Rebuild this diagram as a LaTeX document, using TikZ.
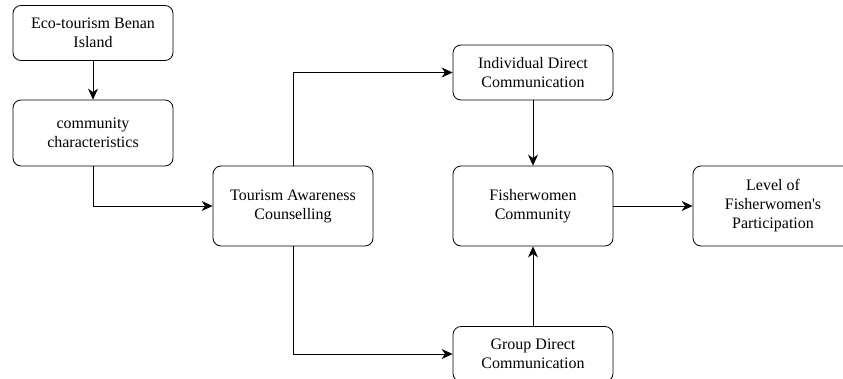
\documentclass[tikz,border=0pt]{standalone}
\usepackage{fontspec}
\setmainfont{Liberation Serif}
\usetikzlibrary{arrows.meta}

\begin{document}
\begin{tikzpicture}[x=1pt, y=-1pt,
        box/.style={draw, thick, rounded corners=8pt, align=center,
                minimum width=160pt, minimum height=80pt,
                font=\fontsize{16}{19}\selectfont},
        smallbox/.style={box, minimum height=55pt},
        flow/.style={-{Stealth[length=11pt, width=10pt, inset=3.5pt]}, thick}]
        \useasboundingbox (0,0) rectangle (843,378);
        \node (eco) [smallbox] at (93, 33) {Eco-tourism Benan\\Island};
        \node (comm) [smallbox, minimum height=66pt] at (93, 133) {community\\characteristics};
        \node (tac) [box] at (293, 206) {Tourism Awareness\\Counselling};
        \node (idc) [smallbox] at (533, 72.5) {Individual Direct\\Communication};
        \node (fwc) [box] at (533, 206) {Fisherwomen\\Community};
        \node (gdc) [smallbox] at (533, 354) {Group Direct\\Communication};
        \node (lfp) [box] at (773, 206) {Level of\\Fisherwomen\textquotesingle s\\Participation};
        \draw [flow] (eco) -- (comm);
        \draw [flow] (comm.south) |- (tac.west);
        \draw [flow] (tac.north) |- (idc.west);
        \draw [flow] (tac.south) |- (gdc.west);
        \draw [flow] (idc) -- (fwc);
        \draw [flow] (gdc) -- (fwc);
        \draw [flow] (fwc) -- (lfp);
\end{tikzpicture}
\end{document}
